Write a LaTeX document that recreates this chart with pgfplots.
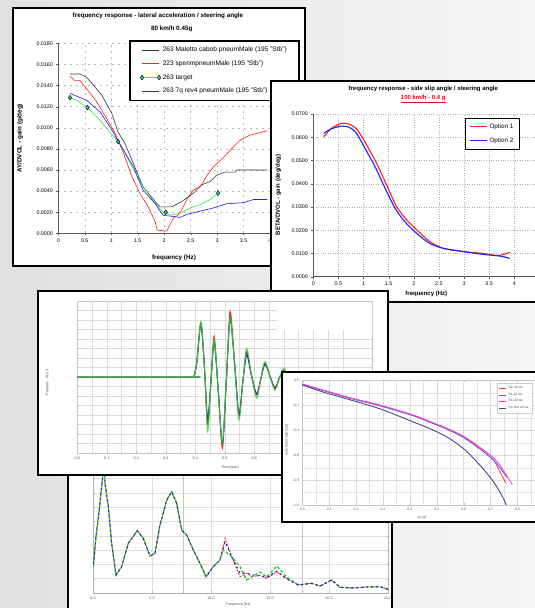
\documentclass[border=0pt]{standalone}
\usepackage{pgfplots}
\pgfplotsset{compat=1.18}
\usepackage{fontspec}
\setmainfont{Liberation Sans}
\newcommand\fs[1]{\fontsize{#1}{#1}\selectfont}
\definecolor{pgreen}{RGB}{60,230,60}
\definecolor{pred}{RGB}{255,30,30}
\definecolor{pblue}{RGB}{30,30,255}
\definecolor{p4red}{RGB}{255,60,60}
\definecolor{p4blue}{RGB}{90,90,255}
\definecolor{p4mag}{RGB}{255,60,200}
\definecolor{p4navy}{RGB}{70,70,140}
\pgfplotsset{every axis/.append style={/pgf/number format/assume math mode=true}}
\begin{document}
\begin{tikzpicture}[x=1pt,y=1pt]
\useasboundingbox (0,0) rectangle (535,608);
\begin{pgfinterruptboundingbox}
\begin{scope}
\clip (0,0) rectangle (535,608);
\shade[left color=gray!24, right color=gray!7] (0,0) rectangle (535,608);

% ---------------- Panel 1 ----------------
\filldraw[fill=white, draw=black, line width=1.6pt] (13,342) rectangle (305,600);
\node[font=\fs{6.3}\bfseries] at (158,592) {frequency response - lateral acceleration / steering angle};
\node[font=\fs{6.3}\bfseries] at (171.7,578.7) {80 km/h 0.45g};
\node[font=\fs{6.3}\bfseries, rotate=90] at (20,469.7) {AY/DVOL - gain (g/deg)};
\node[font=\fs{6.3}\bfseries] at (174,349.7) {frequency (Hz)};
\begin{axis}[at={(58.3pt,374.7pt)}, anchor=south west, scale only axis,
  width=211.7pt, height=190pt, xmin=0, xmax=4, ymin=0, ymax=0.018,
  axis x line*=bottom, axis y line*=left, axis line style={gray!70!black, line width=0.5pt},
  xtick={0,0.5,1,1.5,2,2.5,3,3.5,4},
  ytick={0,0.002,0.004,0.006,0.008,0.010,0.012,0.014,0.016,0.018},
  scaled y ticks=false,
  yticklabel style={/pgf/number format/.cd, fixed, fixed zerofill, precision=4},
  tick label style={font=\fs{5.3}},
  tick align=outside, major tick length=2pt, tick style={gray!70!black},
  grid=major, major grid style={gray!55, line width=0.4pt, dash pattern=on 2pt off 4pt},
  legend style={name=L1, at={(axis description cs:1.137,1.012)}, anchor=north east,
     font=\fs{6.6}, draw=none, fill=white, row sep=3.6pt,
     inner xsep=10pt, inner ysep=3.5pt},
  legend cell align=left]
\addplot[draw=black!80, line width=0.6pt] coordinates {(0.22,0.01509) (0.41,0.01509) (0.535,0.01478) (0.82,0.0131) (1.01,0.01137) (1.13,0.0096) (1.26,0.0085) (1.42,0.0066) (1.6,0.0044) (1.8,0.0032) (1.92,0.0025) (2.14,0.0025) (2.33,0.003) (2.55,0.0038) (2.71,0.0046) (2.87,0.0049) (2.99,0.0055) (3.15,0.0058) (3.34,0.0058) (3.37,0.006) (3.94,0.006)};
\addlegendentry{263 Maletto cabob pneumMale (195 "Stb")}
\addplot[draw=pred, line width=0.6pt] coordinates {(0.22,0.0149) (0.315,0.01446) (0.41,0.01446) (0.55,0.0136) (0.72,0.0125) (0.91,0.0109) (1.07,0.0095) (1.23,0.0076) (1.39,0.0054) (1.54,0.0038) (1.7,0.0025) (1.83,0.0011) (1.87,0.0003) (2.05,0.0002) (2.17,0.0014) (2.3,0.0019) (2.43,0.0032) (2.55,0.0041) (2.68,0.0044) (2.8,0.0054) (2.93,0.0063) (3.06,0.0069) (3.18,0.0075) (3.31,0.0082) (3.43,0.0088) (3.62,0.0093) (3.94,0.0097)};
\addlegendentry{223 sperimpneumMale (195 "Stb")}
\addplot[draw=pgreen, line width=0.6pt, mark=diamond*, mark size=2.3pt, mark indices={1,3,6,11,17},
   mark options={fill=pgreen, draw=blue!40!black, line width=0.5pt}] coordinates {(0.22,0.01285) (0.35,0.0126) (0.55,0.0119) (0.79,0.0107) (1.04,0.0092) (1.13,0.0087) (1.29,0.0073) (1.54,0.0049) (1.8,0.003) (1.98,0.002) (2.03,0.002) (2.11,0.0017) (2.3,0.0019) (2.49,0.0024) (2.68,0.0027) (2.87,0.0032) (3.02,0.0038)};
\addlegendentry{263 target}
\addplot[draw=pblue, line width=0.6pt] coordinates {(0.22,0.01326) (0.535,0.0126) (0.79,0.0115) (1.01,0.0098) (1.23,0.0079) (1.42,0.0063) (1.6,0.0041) (1.83,0.0028) (1.98,0.0017) (2.17,0.0016) (2.3,0.0015) (2.43,0.0018) (2.68,0.0021) (2.93,0.0024) (3.18,0.0028) (3.5,0.0029) (3.69,0.0032) (3.94,0.0032)};
\addlegendentry{263 7q rev4 pneumMale (195 "Stb")}
\end{axis}
\draw[black, line width=1.3pt] (L1.south west) rectangle (L1.north east);

% ---------------- Panel 2 ----------------
\filldraw[fill=white, draw=black, line width=1.6pt] (271,306) rectangle (545,527);
\node[font=\fs{6}\bfseries] at (423.3,519) {frequency response - side slip angle / steering angle};
\node[font=\fs{6}\bfseries, text=red] at (423.3,509) {\underline{100 km/h - 0.4 g}};
\node[font=\fs{6}\bfseries, rotate=90] at (278.3,413) {BETA/DVOL - gain (deg/deg)};
\node[font=\fs{6}\bfseries] at (426.3,314) {frequency (Hz)};
\begin{axis}[at={(313.3pt,331.3pt)}, anchor=south west, scale only axis,
  width=226.1pt, height=162.7pt, xmin=0, xmax=4.5, ymin=0, ymax=0.07,
  axis x line*=bottom, axis y line*=left, axis line style={gray!70!black, line width=0.5pt},
  xtick={0,0.5,1,1.5,2,2.5,3,3.5,4,4.5},
  xticklabels={0,0.5,1,1.5,2,2.5,3,3.5,4,},
  ytick={0,0.01,0.02,0.03,0.04,0.05,0.06,0.07},
  scaled y ticks=false,
  yticklabel style={/pgf/number format/.cd, fixed, fixed zerofill, precision=4},
  tick label style={font=\fs{5.3}},
  tick align=outside, major tick length=2pt, tick style={gray!70!black},
  grid=major, major grid style={gray!60, line width=0.4pt, dash pattern=on 0.6pt off 1.8pt},
  legend style={name=L2, at={(axis description cs:0.91,0.975)}, anchor=north east,
     font=\fs{6.3}, draw=none, fill=white, row sep=4pt,
     inner xsep=3.5pt, inner ysep=3.5pt},
  legend cell align=left]
\addplot[draw=pred, line width=1.1pt, smooth] coordinates {(0.21,0.0602) (0.36,0.0638) (0.56,0.066) (0.73,0.0655) (0.88,0.0631) (1.06,0.0567) (1.26,0.0488) (1.46,0.0394) (1.66,0.0301) (1.86,0.0244) (2.06,0.0201) (2.32,0.0151) (2.59,0.0122) (2.99,0.0108) (3.38,0.0100) (3.68,0.0091) (3.91,0.0105)};
\addlegendentry{Option 1}
\addplot[draw=pblue, line width=1.1pt, smooth] coordinates {(0.21,0.0617) (0.36,0.0636) (0.56,0.0648) (0.73,0.0641) (0.86,0.0617) (1.03,0.0552) (1.23,0.0473) (1.43,0.0380) (1.63,0.0294) (1.82,0.0237) (2.06,0.0186) (2.32,0.0143) (2.59,0.0122) (2.99,0.0108) (3.38,0.0096) (3.71,0.0089) (3.91,0.0079)};
\addlegendentry{Option 2}
\end{axis}
\draw[black, line width=0.7pt] (L2.south west) rectangle (L2.north east);

% ---------------- Panel 5 (bottom) ----------------
\filldraw[fill=white, draw=black, line width=1.6pt] (68,-20) rectangle (392,135);
\node[font=\fs{3.6}, text=gray!70!black] at (238,3) {Frequenza [Hz]};
\begin{axis}[at={(93pt,15pt)}, anchor=south west, scale only axis,
  width=295pt, height=125pt, xmin=0, xmax=25, ymin=0, ymax=125,
  axis line style={gray!60, line width=0.5pt},
  xtick={0,5,10,15,20,25}, ytick={0,14.3,28.6,42.9,57.2,71.5,85.8,100.1,114.4},
  yticklabels={}, 
  xticklabel style={/pgf/number format/.cd, fixed, fixed zerofill, precision=1},
  tick label style={font=\fs{3.6}, text=gray!70!black},
  tick align=inside, major tick length=1.5pt, tick style={gray!60},
  grid=major, major grid style={gray!25, line width=0.5pt},
  extra x ticks={7.63,17.71}, extra x tick labels={},
  extra x tick style={grid=major, major grid style={gray!45, line width=0.6pt}}]
\addplot[draw=pred, line width=0.9pt, dash pattern=on 2pt off 1.5pt] coordinates {(0.03,26.3) (0.25,56.3) (0.53,83) (0.82,116.3) (0.93,128) (1.02,109.7) (1.3,86.3) (1.58,49.7) (1.95,18) (2.43,26.3) (2.99,49.7) (3.75,62.3) (4.26,54.7) (4.83,37) (5.25,39.7) (5.68,68) (6.25,93) (6.67,101.3) (7.09,89.7) (7.51,63) (7.94,58) (8.5,43) (9.07,29.7) (9.58,16.3) (10.19,26.3) (10.76,33) (11.19,54.7) (11.75,36.3) (12.46,16.3) (13.03,19.7) (13.58,16.3) (14.15,18) (14.72,14.7) (15.57,21) (16.41,14.7) (17.4,8) (18.53,9.7) (19.24,7) (20.23,13) (20.93,5.7) (22.06,5) (23.19,6) (24.32,6.3) (25.17,3)};
\addplot[draw=pgreen!85!black, line width=1.3pt, dash pattern=on 3pt off 2pt] coordinates {(0.03,26.3) (0.25,56.3) (0.53,83) (0.82,116.3) (0.93,128) (1.02,109.7) (1.3,86.3) (1.58,49.7) (1.95,18) (2.43,26.3) (2.99,49.7) (3.75,62.3) (4.26,54.7) (4.83,37) (5.25,39.7) (5.68,68) (6.25,93) (6.67,101.3) (7.09,89.7) (7.51,63) (7.94,58) (8.5,43) (9.07,29.7) (9.58,16.3) (10.19,26.3) (10.76,33) (11.04,43) (11.75,36.3) (12.46,26.3) (13.0,13) (13.58,17) (14.15,21) (14.72,16) (15.57,27) (16.41,16) (17.4,8) (18.53,9.7) (19.24,7) (20.23,13) (20.93,5.7) (22.06,5) (23.19,6) (24.32,6.3) (25.17,3)};
\addplot[draw=pblue!80!black, line width=1.0pt, dash pattern=on 2pt off 3pt, dash phase=2.5pt] coordinates {(0.03,26.3) (0.25,56.3) (0.53,83) (0.82,116.3) (0.93,128) (1.02,109.7) (1.3,86.3) (1.58,49.7) (1.95,18) (2.43,26.3) (2.99,49.7) (3.75,62.3) (4.26,54.7) (4.83,37) (5.25,39.7) (5.68,68) (6.25,93) (6.67,101.3) (7.09,89.7) (7.51,63) (7.94,58) (8.5,43) (9.07,29.7) (9.58,16.3) (10.19,26.3) (10.76,33) (11.19,51.3) (11.75,36.3) (12.46,20) (13.03,19.7) (13.58,18) (14.15,17) (14.72,15.5) (15.57,22) (16.41,14) (17.4,8) (18.53,9.7) (19.24,7) (20.23,13) (20.93,5.7) (22.06,5) (23.19,6) (24.32,6.3) (25.17,3)};
\end{axis}

% ---------------- Panel 3 (time) ----------------
\filldraw[fill=white, draw=black, line width=1.6pt] (38,133) rectangle (388,317);
\node[font=\fs{3.8}, text=gray!70!black, rotate=90] at (47,226) {Pedana - Acc X};
\node[font=\fs{3.8}, text=gray!70!black] at (230,140.3) {Time [sec]};
\begin{axis}[at={(77.3pt,155pt)}, anchor=south west, scale only axis,
  width=295pt, height=152pt, xmin=0, xmax=1.0, ymin=-8, ymax=8,
  axis line style={gray!45, line width=0.5pt},
  xtick={0,0.1,0.2,0.3,0.4,0.5,0.6,0.7,0.8,0.9}, minor x tick num=1,
  ytick={-8,-7,...,8}, yticklabels={},
  xticklabel style={/pgf/number format/.cd, fixed, fixed zerofill, precision=1},
  tick label style={font=\fs{3.8}, text=gray!70!black},
  tick align=inside, major tick length=1.5pt, minor tick length=0pt, tick style={gray!50},
  grid=both, major grid style={gray!28, line width=0.45pt}, minor grid style={gray!28, line width=0.45pt}]
\addplot[draw=pred, line width=0.9pt, smooth, tension=0.45] coordinates {(0,0) (0.39,0) (0.396,0.1) (0.405,1.5) (0.419,5.6) (0.431,1.0) (0.442,-5.0) (0.453,-0.5) (0.464,4.3) (0.478,-1.5) (0.492,-7.5) (0.505,-0.5) (0.518,6.9) (0.533,1.6) (0.548,-4.0) (0.561,-0.5) (0.574,2.6) (0.590,0.2) (0.608,-1.8) (0.622,-0.2) (0.636,1.5) (0.653,0.1) (0.670,-1.1) (0.685,-0.1) (0.700,0.7) (0.715,0) (0.73,-0.5) (0.745,0) (0.76,0.35) (0.78,0) (0.8,-0.2) (0.83,0.05) (0.87,0) (1.0,0)};
\addplot[draw=pblue, line width=0.9pt, smooth, tension=0.45] coordinates {(0,0) (0.39,0) (0.396,0.1) (0.405,1.5) (0.419,5.6) (0.431,1.0) (0.442,-4.4) (0.453,-0.5) (0.464,3.6) (0.478,-1.5) (0.492,-7.0) (0.505,-0.5) (0.518,6.1) (0.533,1.5) (0.548,-4.0) (0.561,-0.5) (0.574,2.3) (0.590,0.2) (0.608,-1.8) (0.622,-0.2) (0.636,1.3) (0.653,0.1) (0.670,-1.2) (0.685,-0.1) (0.700,0.7) (0.715,0) (0.73,-0.5) (0.745,0) (0.76,0.35) (0.78,0) (0.8,-0.2) (0.83,0.05) (0.87,0) (1.0,0)};
\addplot[draw=black!70!olive, line width=0.7pt, smooth, tension=0.45] coordinates {(0,0) (0.39,0) (0.396,0.1) (0.405,1.5) (0.419,5.7) (0.431,1.0) (0.442,-5.0) (0.453,-0.5) (0.464,3.9) (0.478,-1.5) (0.492,-7.2) (0.505,-0.5) (0.518,6.4) (0.533,1.5) (0.548,-4.1) (0.561,-0.5) (0.574,2.7) (0.590,0.2) (0.608,-1.9) (0.622,-0.2) (0.636,1.45) (0.653,0.1) (0.670,-1.2) (0.685,-0.1) (0.700,0.75) (0.715,0) (0.73,-0.5) (0.745,0) (0.76,0.35) (0.78,0) (0.8,-0.2) (0.83,0.05) (0.87,0) (1.0,0)};
\addplot[draw=pgreen!90!black, line width=1.2pt, opacity=0.8, smooth, tension=0.45] coordinates {(0,0) (0.39,0) (0.396,0.1) (0.405,1.6) (0.419,5.8) (0.431,1.0) (0.442,-5.7) (0.453,-0.6) (0.464,4.0) (0.478,-1.6) (0.492,-7.0) (0.505,-0.4) (0.518,6.3) (0.533,1.4) (0.548,-4.5) (0.561,-0.6) (0.574,3.0) (0.590,0.3) (0.608,-2.2) (0.622,-0.2) (0.636,1.6) (0.653,0.1) (0.670,-1.4) (0.685,-0.1) (0.700,0.9) (0.715,0) (0.73,-0.5) (0.745,0) (0.76,0.4) (0.78,0) (0.8,-0.2) (0.83,0.05) (0.87,0) (1.0,0)};
\end{axis}
\fill[white] (277,278) rectangle (372,306);

% ---------------- Panel 4 ----------------
\filldraw[fill=white, draw=black, line width=1.6pt] (282,86) rectangle (545,236);
\node[font=\fs{3.4}, text=gray!70!black, rotate=90] at (286.7,168) {Side Slip Angle [rad]};
\node[font=\fs{3.4}, text=gray!70!black] at (421.7,90.3) {ay [g]};
\begin{axis}[at={(302.3pt,103pt)}, anchor=south west, scale only axis,
  width=242pt, height=124.3pt, xmin=0, xmax=0.9, ymin=-1.0, ymax=0,
  axis line style={gray!45, line width=0.5pt},
  xtick={0,0.1,0.2,0.3,0.4,0.5,0.6,0.7,0.8,0.9}, minor x tick num=1,
  xticklabels={0.0,0.1,0.2,0.3,0.4,0.5,0.6,0.7,0.8,},
  ytick={-1,-0.8,-0.6,-0.4,-0.2,0}, minor y tick num=1,
  yticklabel style={/pgf/number format/.cd, fixed, fixed zerofill, precision=1},
  tick label style={font=\fs{3.4}, text=gray!70!black},
  tick align=inside, major tick length=1.5pt, minor tick length=0pt, tick style={gray!50},
  grid=both, major grid style={gray!28, line width=0.45pt}, minor grid style={gray!22, line width=0.4pt},
  legend style={name=L4, at={(axis description cs:0.805,0.979)}, anchor=north west,
     font=\fs{3.2}, text=gray!60!black, draw=none, fill=white, row sep=-1.2pt,
     inner xsep=1.5pt, inner ysep=1pt},
  legend image code/.code={\draw[#1] (0pt,0pt) -- (7pt,0pt);},
  legend cell align=left]
\addplot[draw=p4red, line width=0.8pt, smooth] coordinates {(0,-0.027) (0.167,-0.133) (0.29,-0.2) (0.414,-0.28) (0.476,-0.333) (0.538,-0.387) (0.6,-0.453) (0.661,-0.547) (0.711,-0.64) (0.735,-0.733) (0.758,-0.827)};
\addlegendentry{RC-10 ws}
\addplot[draw=p4blue, line width=0.8pt, smooth] coordinates {(0,-0.029) (0.167,-0.135) (0.29,-0.203) (0.414,-0.283) (0.476,-0.336) (0.538,-0.39) (0.6,-0.457) (0.661,-0.55) (0.711,-0.637) (0.735,-0.7) (0.762,-0.78)};
\addlegendentry{RL-10 ws}
\addplot[draw=p4mag, line width=0.8pt, smooth] coordinates {(0,-0.027) (0.167,-0.131) (0.29,-0.197) (0.414,-0.277) (0.476,-0.33) (0.538,-0.383) (0.6,-0.447) (0.661,-0.537) (0.711,-0.62) (0.735,-0.68) (0.781,-0.835)};
\addlegendentry{RC-20 ws}
\addplot[draw=p4navy, line width=0.9pt, smooth] coordinates {(0,-0.035) (0.08,-0.093) (0.167,-0.147) (0.29,-0.227) (0.414,-0.333) (0.476,-0.387) (0.538,-0.453) (0.6,-0.547) (0.661,-0.68) (0.711,-0.813) (0.748,-0.947) (0.758,-1.0)};
\addlegendentry{RC Ref 20 ws}
\end{axis}
\draw[gray!40, line width=0.4pt] (L4.south west) rectangle (L4.north east);
\end{scope}
\end{pgfinterruptboundingbox}
\end{tikzpicture}
\end{document}
